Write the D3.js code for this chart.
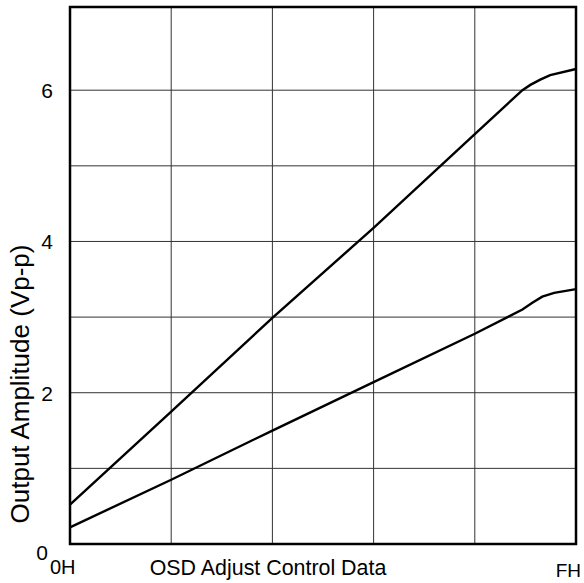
<!DOCTYPE html>
<html>
<head>
<meta charset="utf-8">
<script src="https://cdn.jsdelivr.net/npm/d3@7"></script>
<style>
  body { margin: 0; background: #fff; }
  text { font-family: "Liberation Sans", Arial, sans-serif; fill: #000; }
</style>
</head>
<body>
<script>
// adjust data code (0H..FH, as 0..255) vs output amplitude (Vp-p)
var upperCodes = [0, 51, 102, 153, 204, 228, 232, 237, 242, 255]
var upper = [0.52, 1.75, 2.99, 4.18, 5.42, 6.0, 6.07, 6.14, 6.2, 6.28]
var lowerCodes = [0, 51, 102, 153, 204, 228, 233, 238, 244, 255]
var lower = [0.22, 0.85, 1.5, 2.14, 2.78, 3.1, 3.19, 3.27, 3.32, 3.37]
var yTicks = [2, 4, 6]
var yGrid = [1, 2, 3, 4, 5, 6]
var xGrid = [51, 102, 153, 204]

var W = 584, H = 583
var m = { left: 70, right: 576, top: 7, bottom: 544 }

var svg = d3.select('body').append('svg')
  .attr('width', W).attr('height', H)

var x = d3.scaleLinear().domain([0, 255]).range([m.left, m.right])
var y = d3.scaleLinear().domain([0, 7.1]).range([m.bottom, m.top])

// grid
svg.append('g').selectAll('line').data(xGrid).enter().append('line')
  .attr('x1', function(d){ return x(d) }).attr('x2', function(d){ return x(d) })
  .attr('y1', m.top).attr('y2', m.bottom)
  .attr('stroke', '#333').attr('stroke-width', 1)
svg.append('g').selectAll('line').data(yGrid).enter().append('line')
  .attr('x1', m.left).attr('x2', m.right)
  .attr('y1', function(d){ return y(d) }).attr('y2', function(d){ return y(d) })
  .attr('stroke', '#333').attr('stroke-width', 1)

// curves
var line = d3.line()
  .x(function(d){ return x(d[0]) })
  .y(function(d){ return y(d[1]) })

svg.append('path').datum(d3.zip(upperCodes, upper))
  .attr('d', line).attr('fill', 'none')
  .attr('stroke', '#000').attr('stroke-width', 2.4)
svg.append('path').datum(d3.zip(lowerCodes, lower))
  .attr('d', line).attr('fill', 'none')
  .attr('stroke', '#000').attr('stroke-width', 2.4)

// frame
svg.append('rect')
  .attr('x', m.left).attr('y', m.top)
  .attr('width', m.right - m.left).attr('height', m.bottom - m.top)
  .attr('fill', 'none').attr('stroke', '#000').attr('stroke-width', 2.5)

// y labels
svg.append('g').selectAll('text').data(yTicks).enter().append('text')
  .attr('x', 53).attr('y', function(d){ return y(d) + 8 })
  .attr('text-anchor', 'end').attr('font-size', 21)
  .text(function(d){ return d })
svg.append('text').attr('x', 48).attr('y', 560)
  .attr('text-anchor', 'end').attr('font-size', 21).text('0')

svg.append('text')
  .attr('transform', 'translate(29,384) rotate(-90)')
  .attr('text-anchor', 'middle').attr('font-size', 26)
  .text('Output Amplitude (Vp-p)')

// x labels
svg.append('text').attr('x', 50).attr('y', 574)
  .attr('font-size', 20).text('0H')
svg.append('text').attr('x', 268).attr('y', 575)
  .attr('text-anchor', 'middle').attr('font-size', 21.4)
  .text('OSD Adjust Control Data')
svg.append('text').attr('x', 581).attr('y', 577)
  .attr('text-anchor', 'end').attr('font-size', 19).text('FH')
</script>
</body>
</html>
